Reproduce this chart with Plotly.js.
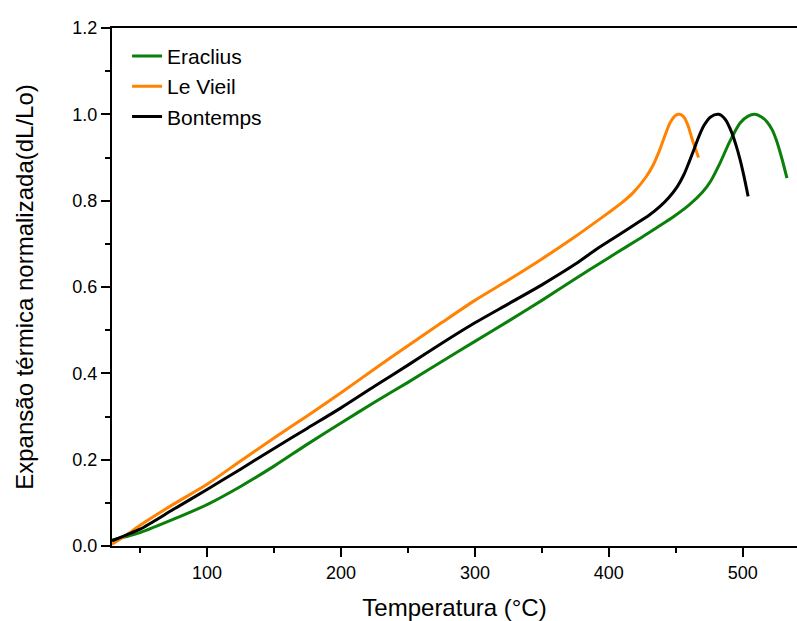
<!DOCTYPE html>
<html>
<head>
<meta charset="utf-8">
<script src="https://cdn.plot.ly/plotly-3.0.1.min.js"></script>
<style>html,body{margin:0;padding:0;background:#fff;}#chart{width:797px;height:621px;}</style>
</head>
<body>
<div id="chart"></div>
<script>
// Eraclius
const eraT = [29, 40, 50, 75, 100, 125, 150, 175, 200, 225, 250, 275, 300, 325, 350, 375, 400, 413, 425, 436, 448, 460, 470, 476, 483, 490, 498, 504, 509, 514, 518, 522, 525, 529, 533];
const eraY = [0.014, 0.022, 0.031, 0.062, 0.096, 0.138, 0.185, 0.236, 0.285, 0.333, 0.379, 0.427, 0.474, 0.521, 0.569, 0.619, 0.668, 0.693, 0.716, 0.738, 0.762, 0.79, 0.82, 0.845, 0.887, 0.935, 0.98, 0.996, 1.0, 0.994, 0.983, 0.964, 0.941, 0.9, 0.852];
// Le Vieil
const lvT = [29, 40, 50, 75, 100, 125, 150, 175, 200, 225, 250, 275, 300, 325, 350, 375, 389, 401, 410, 418, 428, 433, 437, 440, 443, 446, 450, 453, 456, 459, 461, 463, 467];
const lvY = [0.004, 0.026, 0.048, 0.097, 0.143, 0.197, 0.25, 0.302, 0.355, 0.41, 0.464, 0.517, 0.569, 0.616, 0.665, 0.717, 0.748, 0.775, 0.796, 0.818, 0.856, 0.882, 0.91, 0.935, 0.96, 0.982, 0.998, 1.0, 0.994, 0.975, 0.955, 0.935, 0.9];
// Bontemps
const bonT = [29, 40, 50, 75, 100, 125, 150, 175, 200, 225, 250, 275, 300, 325, 350, 375, 391, 405, 418, 430, 438, 445, 451, 456, 460, 464, 467, 471, 476, 482, 487, 492, 495, 498, 501, 504];
const bonY = [0.012, 0.026, 0.039, 0.085, 0.131, 0.178, 0.226, 0.273, 0.32, 0.37, 0.419, 0.469, 0.517, 0.561, 0.605, 0.653, 0.688, 0.716, 0.742, 0.766, 0.786, 0.808, 0.832, 0.86, 0.89, 0.922, 0.947, 0.974, 0.994, 1.0, 0.988, 0.956, 0.928, 0.895, 0.855, 0.81];

const seriesNames = ["Eraclius", "Le Vieil", "Bontemps"];
const colors = ["#0a800a", "#ff8200", "#000000"];
const xTicks = [100, 200, 300, 400, 500];
const yTicks = [0.0, 0.2, 0.4, 0.6, 0.8, 1.0, 1.2];

const xs = [eraT, lvT, bonT], ys = [eraY, lvY, bonY];
const data = seriesNames.map((n, i) => ({
  x: xs[i], y: ys[i], name: n, type: 'scatter', mode: 'lines',
  line: {color: colors[i], width: 3, shape: 'spline', smoothing: 0.8}
}));

const font = {family: 'Arial, "Liberation Sans", sans-serif', color: '#000'};
const layout = {
  width: 797, height: 621,
  margin: {l: 112, r: 0, t: 28, b: 75},
  paper_bgcolor: '#fff', plot_bgcolor: '#fff',
  font: Object.assign({size: 18}, font),
  showlegend: true,
  legend: {x: 0.022, y: 0.985, xanchor: 'left', yanchor: 'top', bgcolor: 'rgba(0,0,0,0)',
    font: Object.assign({size: 21}, font), tracegroupgap: 0},
  xaxis: {
    range: [29, 540.5], tickvals: xTicks, ticktext: xTicks.map(String),
    ticks: 'outside', ticklen: 9, tickwidth: 2, tickcolor: '#000',
    showline: true, linewidth: 2, linecolor: '#000', mirror: true,
    showgrid: false, zeroline: false,
    minor: {tickvals: [50, 150, 250, 350, 450], ticks: 'outside', ticklen: 5, tickwidth: 2, tickcolor: '#000', showgrid: false},
    tickfont: Object.assign({size: 18}, font),
    title: {text: 'Temperatura (°C)', font: Object.assign({size: 24}, font), standoff: 20}
  },
  yaxis: {
    range: [0, 1.2], tickvals: yTicks, ticktext: yTicks.map(v => v.toFixed(1)),
    ticks: 'outside', ticklen: 9, tickwidth: 2, tickcolor: '#000',
    showline: true, linewidth: 2, linecolor: '#000', mirror: false,
    showgrid: false, zeroline: false,
    minor: {tickvals: [0.1, 0.3, 0.5, 0.7, 0.9, 1.1], ticks: 'outside', ticklen: 5, tickwidth: 2, tickcolor: '#000', showgrid: false},
    tickfont: Object.assign({size: 18}, font),
    title: {text: 'Expansão térmica normalizada(dL/Lo)', font: Object.assign({size: 24}, font), standoff: 32}
  }
};
Plotly.newPlot('chart', data, layout, {displayModeBar: false, staticPlot: true});
</script>
</body>
</html>
